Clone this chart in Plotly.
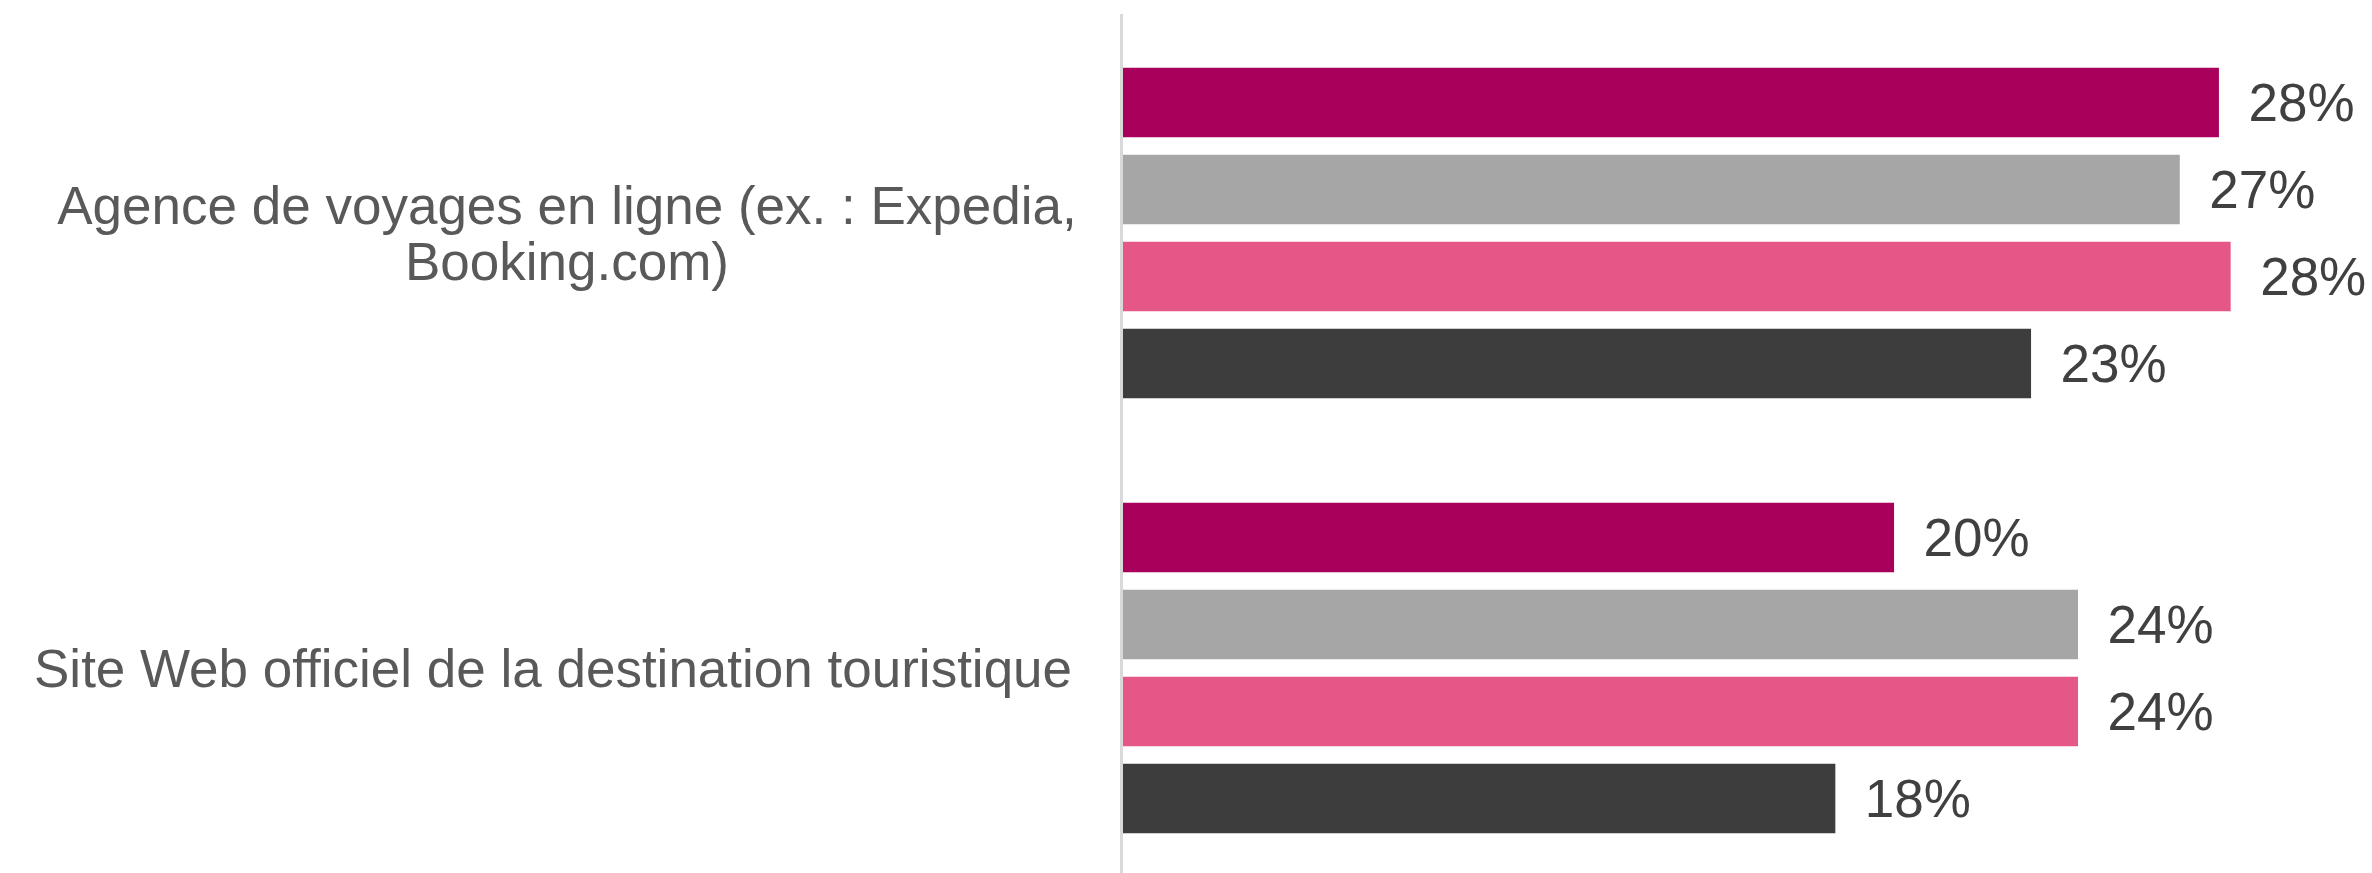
import plotly.graph_objects as go

categories = [
    "Agence de voyages en ligne (ex. : Expedia,<br>Booking.com)",
    "Site Web officiel de la destination touristique",
]
series_names = ["Série 1", "Série 2", "Série 3", "Série 4"]
series_values = [
    [28.0, 19.7],
    [27.0, 24.4],
    [28.3, 24.4],
    [23.2, 18.2],
]
colors = ["#A8005B", "#A6A6A6", "#E55787", "#3D3D3D"]

W, H = 2372, 873
left, top = 1123, 14
px_per_unit = 39.14
x_max = (W - left) / px_per_unit
font_family = "Liberation Sans, Arial, sans-serif"

fig = go.Figure()
for name, vals, col in zip(series_names, series_values, colors):
    fig.add_trace(go.Bar(
        y=categories, x=vals, name=name, orientation="h",
        marker=dict(color=col, line=dict(width=0)),
        texttemplate="\u2002%{x:.0f}%", textposition="outside",
        textfont=dict(family=font_family, size=53, color="#404040"),
        constraintext="none", cliponaxis=False,
        hoverinfo="skip",
    ))

line_gap = 56
for cat in categories:
    lines = cat.split("<br>")
    n = len(lines)
    for i, ln in enumerate(lines):
        ann = dict(
            x=0, xref="paper", xanchor="right",
            y=cat, yref="y", yanchor="middle",
            yshift=((n - 1) / 2 - i) * line_gap,
            text=ln, showarrow=False, align="center",
            font=dict(family=font_family, size=53, color="#595959"),
        )
        if n > 1:
            ann.update(width=1024, xshift=-42)
        else:
            ann.update(xshift=-49)
        fig.add_annotation(**ann)

unit = 435.0
plot_h = H - top
r_top = -219.0 / unit
r_bot = r_top + plot_h / unit

fig.update_layout(
    width=W, height=H,
    margin=dict(l=left, r=0, t=top, b=0, pad=0),
    barmode="group", bargap=0.2, bargroupgap=0.2,
    plot_bgcolor="white", paper_bgcolor="white",
    showlegend=False,
    xaxis=dict(range=[0, x_max], visible=False, showgrid=False, zeroline=False),
    yaxis=dict(type="category", range=[r_bot, r_top], showticklabels=False,
               showgrid=False, zeroline=False, showline=True,
               linecolor="#D9D9D9", linewidth=3, ticks=""),
)

fig.write_html("out.html")
